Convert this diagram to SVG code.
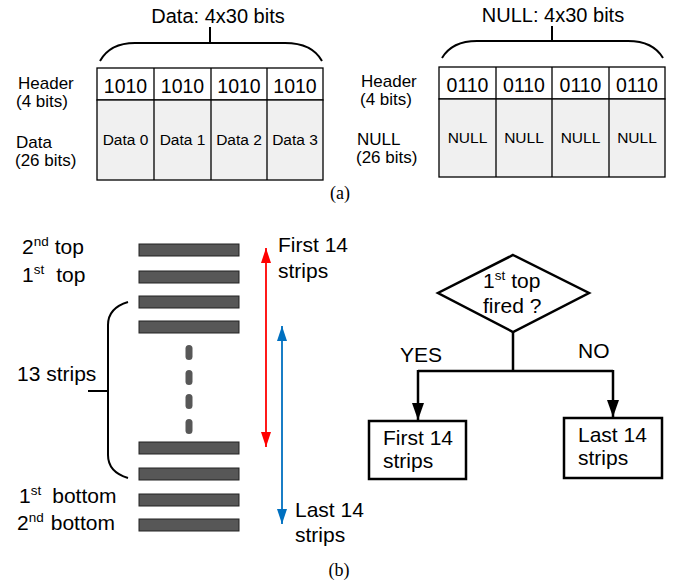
<svg xmlns="http://www.w3.org/2000/svg" width="686" height="583" viewBox="0 0 686 583">
<style>
text{font-family:"Liberation Sans",Arial,sans-serif;fill:#000}
.t17{font-size:17px}
.t20{font-size:20px}
.t21{font-size:21px}
.hdr{font-size:19.5px;text-anchor:middle}
.cell{font-size:15.5px;text-anchor:middle}
.cap{font-family:"Liberation Serif","Times New Roman",serif;font-size:18px;text-anchor:middle}
.sup{font-size:13.5px}
.tab{stroke:#000;stroke-width:1.3}
.brace{fill:none;stroke:#000;stroke-width:2}
.strip{fill:#575757;stroke:#222;stroke-width:1}
.fc{fill:#fff;stroke:#000;stroke-width:2.5}
.fl{fill:none;stroke:#000;stroke-width:2.5}
</style>
<defs>
<marker id="ab" viewBox="0 0 17 12" refX="17" refY="6" markerWidth="17" markerHeight="12" orient="auto" markerUnits="userSpaceOnUse"><path d="M0,0 L17,6 L0,12 z" fill="#000"/></marker>
<marker id="ar" viewBox="0 0 15 10" refX="15" refY="5" markerWidth="15" markerHeight="10" orient="auto-start-reverse" markerUnits="userSpaceOnUse"><path d="M0,0 L15,5 L0,10 z" fill="#ff0000"/></marker>
<marker id="abl" viewBox="0 0 15 10" refX="15" refY="5" markerWidth="15" markerHeight="10" orient="auto-start-reverse" markerUnits="userSpaceOnUse"><path d="M0,0 L15,5 L0,10 z" fill="#0070c0"/></marker>
</defs>

<g id="data-frame">
<text class="t20" x="218" y="23" text-anchor="middle">Data: 4x30 bits</text>
<path class="brace" d="M100,61 Q110,43 135,43 L285,43 Q312,43 322,61 M210,43 L210,27"/>
<rect class="tab" x="97" y="68" width="226" height="32" fill="#fff"/>
<rect class="tab" x="97" y="100" width="226" height="80" fill="#f0f0f0"/>
<path class="tab" d="M154,68 V180 M211,68 V180 M267,68 V180"/>
<text class="hdr" x="125.5" y="93">1010</text>
<text class="hdr" x="182.5" y="93">1010</text>
<text class="hdr" x="239" y="93">1010</text>
<text class="hdr" x="295" y="93">1010</text>
<text class="cell" x="125.5" y="145">Data 0</text>
<text class="cell" x="182.5" y="145">Data 1</text>
<text class="cell" x="239" y="145">Data 2</text>
<text class="cell" x="295" y="145">Data 3</text>
<text class="t17" x="18" y="89">Header</text>
<text class="t17" x="16" y="107">(4 bits)</text>
<text class="t17" x="16" y="148">Data</text>
<text class="t17" x="15" y="166">(26 bits)</text>
</g>

<g id="null-frame">
<text class="t20" x="553" y="22" text-anchor="middle">NULL: 4x30 bits</text>
<path class="brace" d="M442,58 Q452,41 477,41 L628,41 Q653,41 663,58 M552,41 L552,26"/>
<rect class="tab" x="439" y="67" width="226" height="32" fill="#fff"/>
<rect class="tab" x="439" y="99" width="226" height="78" fill="#f0f0f0"/>
<path class="tab" d="M496,67 V177 M552,67 V177 M609,67 V177"/>
<text class="hdr" x="467.5" y="92">0110</text>
<text class="hdr" x="524" y="92">0110</text>
<text class="hdr" x="580.5" y="92">0110</text>
<text class="hdr" x="637" y="92">0110</text>
<text class="cell" x="467.5" y="143">NULL</text>
<text class="cell" x="524" y="143">NULL</text>
<text class="cell" x="580.5" y="143">NULL</text>
<text class="cell" x="637" y="143">NULL</text>
<text class="t17" x="361" y="87">Header</text>
<text class="t17" x="360" y="105">(4 bits)</text>
<text class="t17" x="357" y="145">NULL</text>
<text class="t17" x="356" y="163">(26 bits)</text>
</g>
<text class="cap" x="340" y="199">(a)</text>

<g id="strips">
<rect class="strip" x="139" y="244" width="100" height="12"/>
<rect class="strip" x="139" y="271" width="100" height="12"/>
<rect class="strip" x="139" y="296" width="100" height="12"/>
<rect class="strip" x="139" y="321" width="100" height="12"/>
<rect class="strip" x="139" y="442" width="100" height="12"/>
<rect class="strip" x="139" y="468" width="100" height="12"/>
<rect class="strip" x="139" y="494" width="100" height="12"/>
<rect class="strip" x="139" y="519" width="100" height="12"/>
<rect x="185.5" y="345" width="7" height="15" rx="3.5" fill="#575757"/>
<rect x="185.5" y="370" width="7" height="15" rx="3.5" fill="#575757"/>
<rect x="185.5" y="394" width="7" height="15" rx="3.5" fill="#575757"/>
<rect x="185.5" y="419" width="7" height="15" rx="3.5" fill="#575757"/>
</g>

<g id="strip-labels">
<text class="t21" x="22" y="254">2<tspan class="sup" dy="-8">nd</tspan><tspan dy="8" dx="6">top</tspan></text>
<text class="t21" x="22" y="282">1<tspan class="sup" dy="-8">st</tspan><tspan dy="8" dx="12">top</tspan></text>
<text class="t21" x="17" y="381">13 strips</text>
<text class="t21" x="19" y="503">1<tspan class="sup" dy="-8">st</tspan><tspan dy="8" dx="11">bottom</tspan></text>
<text class="t21" x="17" y="530">2<tspan class="sup" dy="-8">nd</tspan><tspan dy="8" dx="7">bottom</tspan></text>
<path class="brace" d="M128,302 Q108,308 108,325 L108,455 Q108,472 128,478 M88,391 L108,391"/>
</g>

<g id="range-arrows">
<line x1="266" y1="248" x2="266" y2="447" stroke="#ff0000" stroke-width="1.8" marker-start="url(#ar)" marker-end="url(#ar)"/>
<line x1="282" y1="326" x2="282" y2="524" stroke="#0070c0" stroke-width="1.8" marker-start="url(#abl)" marker-end="url(#abl)"/>
<text class="t21" x="278" y="252">First 14</text>
<text class="t21" x="278" y="278">strips</text>
<text class="t21" x="295" y="517">Last 14</text>
<text class="t21" x="295" y="542">strips</text>
</g>
<text class="cap" x="339" y="576">(b)</text>

<g id="decision">
<path class="fc" d="M513,255 L589,293 L513,332 L438,293 Z"/>
<text class="t21" x="483" y="288">1<tspan class="sup" dy="-8">st</tspan><tspan dy="8" dx="6">top</tspan></text>
<text class="t21" x="483" y="313">fired ?</text>
</g>

<g id="box-first">
<rect class="fc" x="369" y="421" width="97" height="58"/>
<text class="t21" x="383" y="445">First 14</text>
<text class="t21" x="383" y="468">strips</text>
</g>

<g id="box-last">
<rect class="fc" x="564" y="418" width="98" height="60"/>
<text class="t21" x="578" y="442">Last 14</text>
<text class="t21" x="578" y="465">strips</text>
</g>

<g id="connectors">
<path class="fl" d="M513,332 V371 M418,371 H613"/>
<line class="fl" x1="418" y1="370" x2="418" y2="420" marker-end="url(#ab)"/>
<line class="fl" x1="613" y1="370" x2="613" y2="417" marker-end="url(#ab)"/>
<text class="t21" x="400" y="362">YES</text>
<text class="t21" x="578" y="358">NO</text>
</g>
</svg>
